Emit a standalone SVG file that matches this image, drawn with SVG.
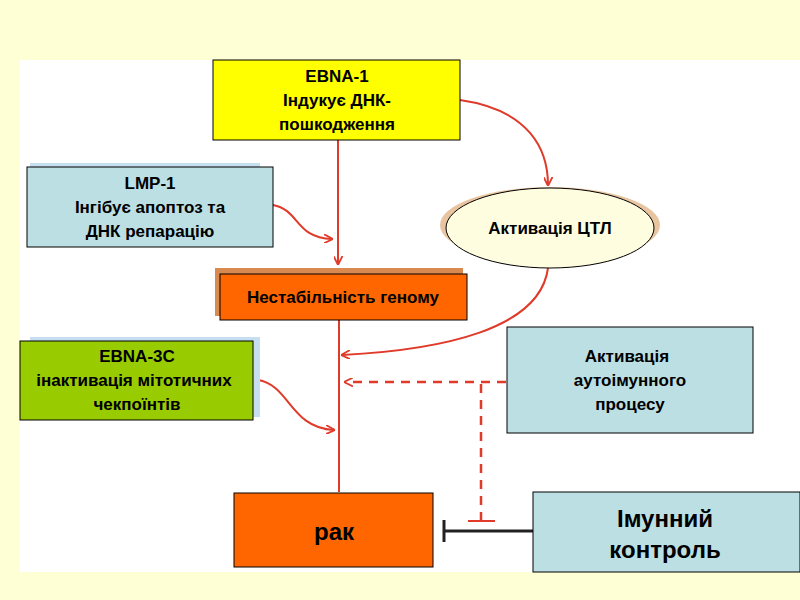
<svg xmlns="http://www.w3.org/2000/svg" width="800" height="600" viewBox="0 0 800 600">
<defs>
<style>
text{font-family:"Liberation Sans",Arial,sans-serif;font-weight:bold;fill:#000;text-anchor:middle}
.t{font-size:17px}
.b{stroke:#000;stroke-width:1}
.c{fill:none;stroke:#e03a2a;stroke-width:2}
.d{fill:none;stroke:#e03a2a;stroke-width:2.5;stroke-dasharray:9,7}
</style>
<marker id="a" viewBox="0 0 10 10" refX="9" refY="5" markerWidth="9" markerHeight="9" orient="auto" markerUnits="userSpaceOnUse"><path d="M0,0 L10,5 L0,10" fill="none" stroke="#e03a2a" stroke-width="2"/></marker>
</defs>
<rect width="800" height="600" fill="#ffffd6"/>
<rect x="20" y="60" width="780" height="512" fill="#fff"/>
<g id="connectors">
<path class="c" d="M338,140 V264" marker-end="url(#a)"/>
<path class="c" d="M339,320 V492"/>
<path class="c" d="M273,205 C300,210 295,238 332,239" marker-end="url(#a)"/>
<path class="c" d="M258,380 C290,385 290,428 334,430" marker-end="url(#a)"/>
<path class="c" d="M460,100 C530,110 548,150 548,185" marker-end="url(#a)"/>
<path class="c" d="M548,268 C540,330 440,350 342,355" marker-end="url(#a)"/>
<path class="d" d="M506,382 H345" marker-end="url(#a)"/>
<path class="d" d="M481,384 V520"/>
<path d="M468,521 H495" stroke="#e03a2a" stroke-width="2"/>
<path d="M533,531 H444 M444,520 V542" stroke="#222" stroke-width="3" fill="none"/>
</g>
<g id="ebna1"><rect class="b" x="213" y="60" width="247" height="80" fill="#ffff00"/>
<text class="t" x="337" y="82">EBNA-1</text><text class="t" x="337" y="106">Індукує ДНК-</text><text class="t" x="337" y="130">пошкодження</text></g>
<g id="lmp1"><rect x="30" y="163" width="230" height="80" fill="#c5dff0"/><rect class="b" x="27" y="167" width="246" height="80" fill="#bcdfe3"/>
<text class="t" x="150" y="189">LMP-1</text><text class="t" x="150" y="213">Інгібує апоптоз та</text><text class="t" x="150" y="237">ДНК репарацію</text></g>
<g id="ctl"><ellipse cx="550" cy="225" rx="110" ry="38" fill="#e8c5a0"/><ellipse cx="550" cy="228" rx="104" ry="40" fill="#fffde0" stroke="#000"/>
<text class="t" x="550" y="234">Активація  ЦТЛ</text></g>
<g id="genome"><rect x="215" y="268" width="248" height="48" fill="#d88a50"/><rect class="b" x="220" y="274" width="247" height="46" fill="#ff6600"/>
<text class="t" x="343" y="303">Нестабільність  геному</text></g>
<g id="ebna3c"><rect x="30" y="337" width="230" height="80" fill="#c5dff0"/><rect class="b" x="20" y="341" width="233" height="79" fill="#99cc00"/>
<text class="t" x="137" y="362">EBNA-3C</text><text class="t" x="134" y="386">інактивація  мітотичних</text><text class="t" x="137" y="410">чекпоїнтів</text></g>
<g id="auto"><rect class="b" x="507" y="327" width="246" height="106" fill="#bcdfe3"/>
<text class="t" x="627" y="362">Активація</text><text class="t" x="630" y="386">аутоімунного</text><text class="t" x="630" y="410">процесу</text></g>
<g id="rak"><rect class="b" x="234" y="493" width="199" height="74" fill="#ff6600"/>
<text x="334" y="540" style="font-size:24px">рак</text></g>
<g id="immune"><rect class="b" x="533" y="492" width="267" height="80" fill="#bcdfe3"/>
<text x="665" y="527" style="font-size:24px">Імунний</text><text x="665" y="558" style="font-size:24px">контроль</text></g>
</svg>
